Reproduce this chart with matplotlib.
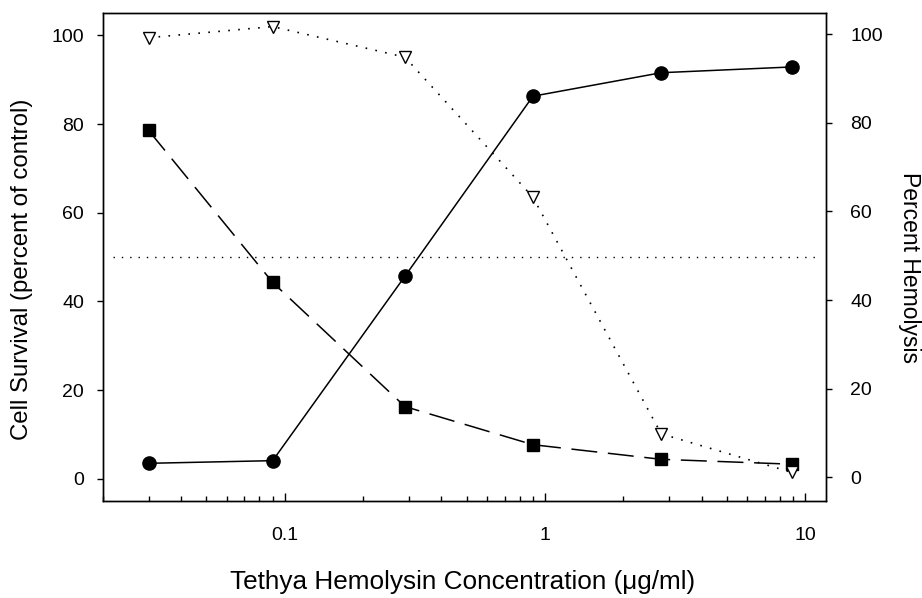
import matplotlib
matplotlib.use("Agg")
import matplotlib.pyplot as plt
from matplotlib.ticker import FixedLocator, FixedFormatter, LogLocator, NullFormatter

plt.rcParams['font.family'] = ['Liberation Sans', 'DejaVu Sans']

concentration = [0.03, 0.09, 0.29, 0.9, 2.8, 8.9]
survival_circles = [3.5, 4.1, 45.7, 86.3, 91.6, 92.9]
survival_squares = [78.6, 44.3, 16.3, 7.7, 4.4, 3.3]
hemolysis = [99.2, 101.7, 94.8, 63.2, 9.8, 1.1]
x_ticks = [0.1, 1, 10]
x_tick_labels = ["0.1", "1", "10"]
y_ticks = [0, 20, 40, 60, 80, 100]
reference_level = 50

fig = plt.figure(figsize=(9.22, 5.98), dpi=100)
ax = fig.add_axes([102.7/922, 1 - 501/598, (825.7-102.7)/922, (501-13.3)/598])
ax2 = ax.twinx()

ax.set_xscale('log')
ax.set_xlim(0.02, 12)
ax.set_ylim(-5, 105)
ax2.set_ylim(-5.35, 104.7)

ax.axhline(reference_level, xmin=0.014, xmax=0.992, color='black', lw=1,
           linestyle=(0, (1, 5)))

ax.plot(concentration, survival_circles, color='black', lw=1.1, marker='o',
        markersize=9.5, markerfacecolor='black', zorder=3)
ax.plot(concentration, survival_squares, color='black', lw=1.1,
        linestyle=(0, (17, 7)), marker='s', markersize=8,
        markerfacecolor='black', zorder=3)
ax2.plot(concentration, hemolysis, color='black', lw=1.2,
         linestyle=(0, (1, 5)), marker='v', markersize=9,
         markerfacecolor='white', markeredgecolor='black', markeredgewidth=1,
         zorder=3)

ax.xaxis.set_major_locator(FixedLocator(x_ticks))
ax.xaxis.set_major_formatter(FixedFormatter(x_tick_labels))
ax.xaxis.set_minor_locator(LogLocator(base=10, subs=range(2, 10)))
ax.xaxis.set_minor_formatter(NullFormatter())
ax.tick_params(axis='x', which='major', direction='in', length=6, width=1,
               pad=19, labelsize=14)
ax.tick_params(axis='x', which='minor', direction='in', length=3.5, width=1)

ax.set_yticks(y_ticks)
ax.tick_params(axis='y', direction='out', length=4.5, width=1, pad=9,
               labelsize=14)
ax2.set_yticks(y_ticks)
ax2.tick_params(axis='y', direction='out', length=4.5, width=1, pad=13,
                labelsize=14)

for a in (ax, ax2):
    for s in a.spines.values():
        s.set_linewidth(1)

fig.text(463/922, 1 - 582/598, "Tethya Hemolysin Concentration (μg/ml)",
         ha='center', va='center', fontsize=18.8)
fig.text(22/922, 1 - 269/598, "Cell Survival (percent of control)",
         ha='center', va='center', rotation=90, fontsize=17.3)
fig.text(909/922, 1 - 268/598, "Percent Hemolysis",
         ha='center', va='center', rotation=270, fontsize=16.5)

fig.savefig("out.png", dpi=100)
